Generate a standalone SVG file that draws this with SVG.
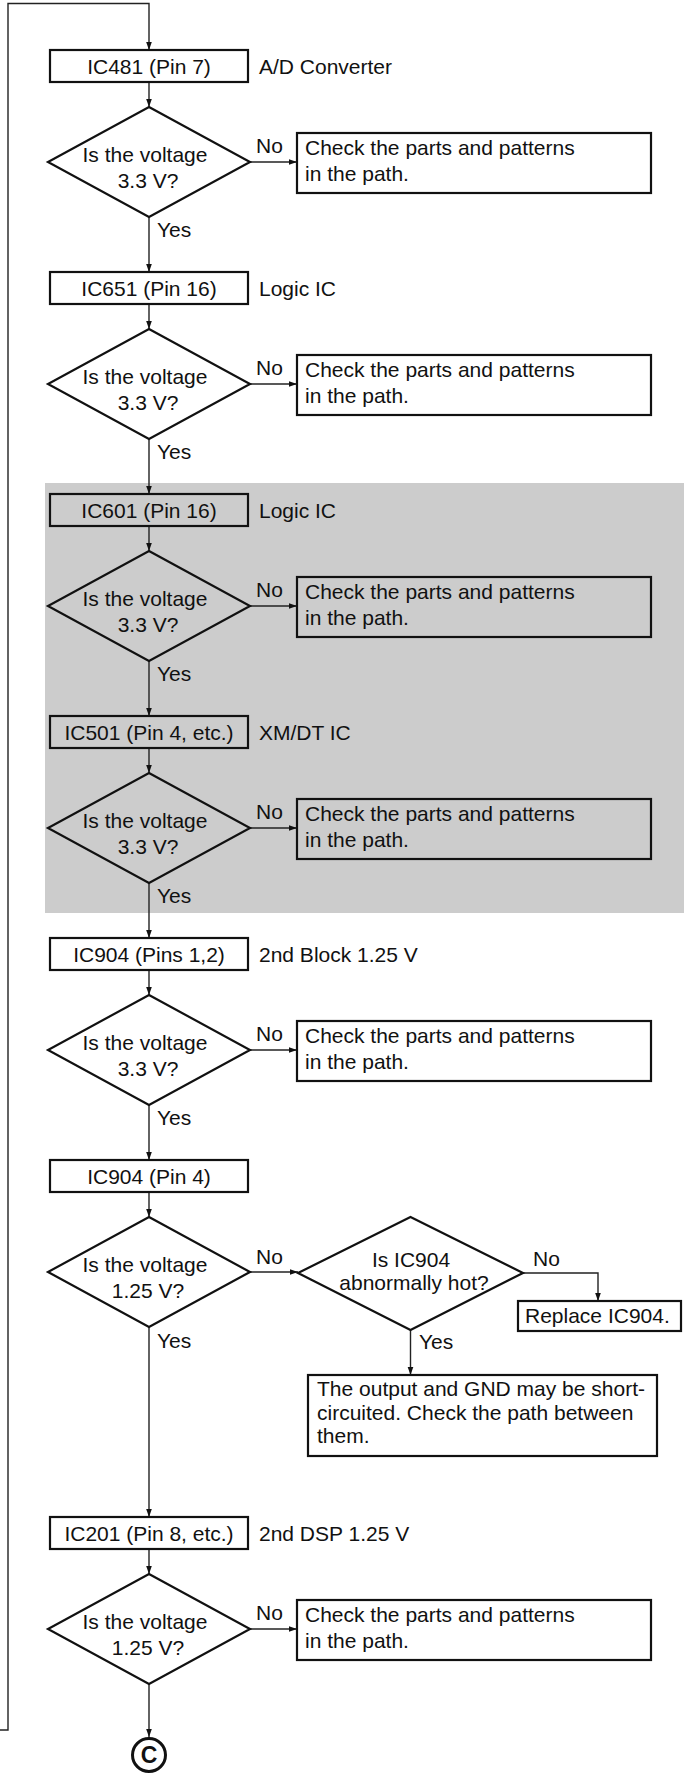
<svg xmlns="http://www.w3.org/2000/svg" width="688" height="1775" viewBox="0 0 688 1775">
<style>
text{font-family:"Liberation Sans",Arial,sans-serif;font-size:21px;fill:#111}
.c{text-anchor:middle}
.box{fill:none;stroke:#111;stroke-width:2.2}
.dia{fill:none;stroke:#111;stroke-width:2.2;stroke-linejoin:miter}
.ln{fill:none;stroke:#222;stroke-width:1.4}
.arr{marker-end:url(#ah)}
</style>
<defs>
<marker id="ah" markerUnits="userSpaceOnUse" markerWidth="9" markerHeight="7" refX="8.5" refY="3.5" orient="auto">
<path d="M0,0.5 L8.5,3.5 L0,6.5 z" fill="#111"/>
</marker>
</defs>
<rect width="688" height="1775" fill="#fff"/>
<rect id="shade" x="45" y="483" width="639" height="430" fill="#cccccc"/>

<g id="connectors">
<polyline class="ln arr" points="0,1730 8,1730 8,3.5 149,3.5 149,50"/>
<line class="ln arr" x1="149" y1="82" x2="149" y2="107"/>
<line class="ln arr" x1="250" y1="162" x2="297" y2="162"/>
<line class="ln arr" x1="149" y1="217" x2="149" y2="272"/>
<line class="ln arr" x1="149" y1="304" x2="149" y2="329"/>
<line class="ln arr" x1="250" y1="384" x2="297" y2="384"/>
<line class="ln arr" x1="149" y1="439" x2="149" y2="494"/>
<line class="ln arr" x1="149" y1="526" x2="149" y2="551"/>
<line class="ln arr" x1="250" y1="606" x2="297" y2="606"/>
<line class="ln arr" x1="149" y1="661" x2="149" y2="716"/>
<line class="ln arr" x1="149" y1="748" x2="149" y2="773"/>
<line class="ln arr" x1="250" y1="828" x2="297" y2="828"/>
<line class="ln arr" x1="149" y1="883" x2="149" y2="938"/>
<line class="ln arr" x1="149" y1="970" x2="149" y2="995"/>
<line class="ln arr" x1="250" y1="1050" x2="297" y2="1050"/>
<line class="ln arr" x1="149" y1="1105" x2="149" y2="1160"/>
<line class="ln arr" x1="149" y1="1192" x2="149" y2="1217"/>
<line class="ln arr" x1="250" y1="1272" x2="298" y2="1272"/>
<polyline class="ln arr" points="523,1273 598,1273 598,1301"/>
<line class="ln arr" x1="410.5" y1="1330" x2="410.5" y2="1375"/>
<line class="ln arr" x1="149" y1="1327" x2="149" y2="1517"/>
<line class="ln arr" x1="149" y1="1549" x2="149" y2="1574"/>
<line class="ln arr" x1="250" y1="1629" x2="297" y2="1629"/>
<line class="ln arr" x1="149" y1="1684" x2="149" y2="1737"/>
<text x="256" y="153">No</text>
<text x="157" y="237">Yes</text>
<text x="256" y="375">No</text>
<text x="157" y="459">Yes</text>
<text x="256" y="597">No</text>
<text x="157" y="681">Yes</text>
<text x="256" y="819">No</text>
<text x="157" y="903">Yes</text>
<text x="256" y="1041">No</text>
<text x="157" y="1125">Yes</text>
<text x="256" y="1264">No</text>
<text x="157" y="1348">Yes</text>
<text x="533" y="1266">No</text>
<text x="419" y="1349">Yes</text>
<text x="256" y="1620">No</text>
</g>

<g id="ic481">
<rect class="box" x="50" y="50" width="198" height="32"/>
<text class="c" x="149" y="73.5">IC481 (Pin 7)</text>
<text x="259" y="73.5">A/D Converter</text>
</g>
<g id="q1">
<polygon class="dia" points="149,107 250,162 149,217 48,162"/>
<text class="c" x="145" y="161.5">Is the voltage</text>
<text class="c" x="148" y="188">3.3 V?</text>
</g>
<g id="chk1">
<rect class="box" x="297" y="133" width="354" height="60"/>
<text x="305" y="155">Check the parts and patterns</text>
<text x="305" y="181">in the path.</text>
</g>

<g id="ic651">
<rect class="box" x="50" y="272" width="198" height="32"/>
<text class="c" x="149" y="295.5">IC651 (Pin 16)</text>
<text x="259" y="295.5">Logic IC</text>
</g>
<g id="q2">
<polygon class="dia" points="149,329 250,384 149,439 48,384"/>
<text class="c" x="145" y="383.5">Is the voltage</text>
<text class="c" x="148" y="410">3.3 V?</text>
</g>
<g id="chk2">
<rect class="box" x="297" y="355" width="354" height="60"/>
<text x="305" y="377">Check the parts and patterns</text>
<text x="305" y="403">in the path.</text>
</g>

<g id="ic601">
<rect class="box" x="50" y="494" width="198" height="32"/>
<text class="c" x="149" y="517.5">IC601 (Pin 16)</text>
<text x="259" y="517.5">Logic IC</text>
</g>
<g id="q3">
<polygon class="dia" points="149,551 250,606 149,661 48,606"/>
<text class="c" x="145" y="605.5">Is the voltage</text>
<text class="c" x="148" y="632">3.3 V?</text>
</g>
<g id="chk3">
<rect class="box" x="297" y="577" width="354" height="60"/>
<text x="305" y="599">Check the parts and patterns</text>
<text x="305" y="625">in the path.</text>
</g>

<g id="ic501">
<rect class="box" x="50" y="716" width="198" height="32"/>
<text class="c" x="149" y="739.5">IC501 (Pin 4, etc.)</text>
<text x="259" y="739.5">XM/DT IC</text>
</g>
<g id="q4">
<polygon class="dia" points="149,773 250,828 149,883 48,828"/>
<text class="c" x="145" y="827.5">Is the voltage</text>
<text class="c" x="148" y="854">3.3 V?</text>
</g>
<g id="chk4">
<rect class="box" x="297" y="799" width="354" height="60"/>
<text x="305" y="821">Check the parts and patterns</text>
<text x="305" y="847">in the path.</text>
</g>

<g id="ic904a">
<rect class="box" x="50" y="938" width="198" height="32"/>
<text class="c" x="149" y="961.5">IC904 (Pins 1,2)</text>
<text x="259" y="961.5">2nd Block 1.25 V</text>
</g>
<g id="q5">
<polygon class="dia" points="149,995 250,1050 149,1105 48,1050"/>
<text class="c" x="145" y="1049.5">Is the voltage</text>
<text class="c" x="148" y="1076">3.3 V?</text>
</g>
<g id="chk5">
<rect class="box" x="297" y="1021" width="354" height="60"/>
<text x="305" y="1043">Check the parts and patterns</text>
<text x="305" y="1069">in the path.</text>
</g>

<g id="ic904b">
<rect class="box" x="50" y="1160" width="198" height="32"/>
<text class="c" x="149" y="1183.5">IC904 (Pin 4)</text>
</g>
<g id="q6">
<polygon class="dia" points="149,1217 250,1272 149,1327 48,1272"/>
<text class="c" x="145" y="1271.5">Is the voltage</text>
<text class="c" x="148" y="1298">1.25 V?</text>
</g>
<g id="hot">
<polygon class="dia" points="410.5,1217 523,1273 410.5,1330 298,1273"/>
<text class="c" x="411" y="1267">Is IC904</text>
<text class="c" x="414" y="1290">abnormally hot?</text>
</g>
<g id="replace">
<rect class="box" x="518" y="1301" width="163" height="30"/>
<text x="525" y="1323">Replace IC904.</text>
</g>
<g id="short">
<rect class="box" x="308" y="1375" width="349" height="81"/>
<text x="317" y="1396">The output and GND may be short-</text>
<text x="317" y="1419.5">circuited. Check the path between</text>
<text x="317" y="1443">them.</text>
</g>

<g id="ic201">
<rect class="box" x="50" y="1517" width="198" height="32"/>
<text class="c" x="149" y="1540.5">IC201 (Pin 8, etc.)</text>
<text x="259" y="1540.5">2nd DSP 1.25 V</text>
</g>
<g id="q7">
<polygon class="dia" points="149,1574 250,1629 149,1684 48,1629"/>
<text class="c" x="145" y="1628.5">Is the voltage</text>
<text class="c" x="148" y="1655">1.25 V?</text>
</g>
<g id="chk7">
<rect class="box" x="297" y="1600" width="354" height="60"/>
<text x="305" y="1622">Check the parts and patterns</text>
<text x="305" y="1648">in the path.</text>
</g>

<g id="connC">
<circle cx="149" cy="1755" r="16.5" fill="none" stroke="#111" stroke-width="3"/>
<text class="c" x="149" y="1763" style="font-weight:bold;font-size:23px">C</text>
</g>
</svg>
